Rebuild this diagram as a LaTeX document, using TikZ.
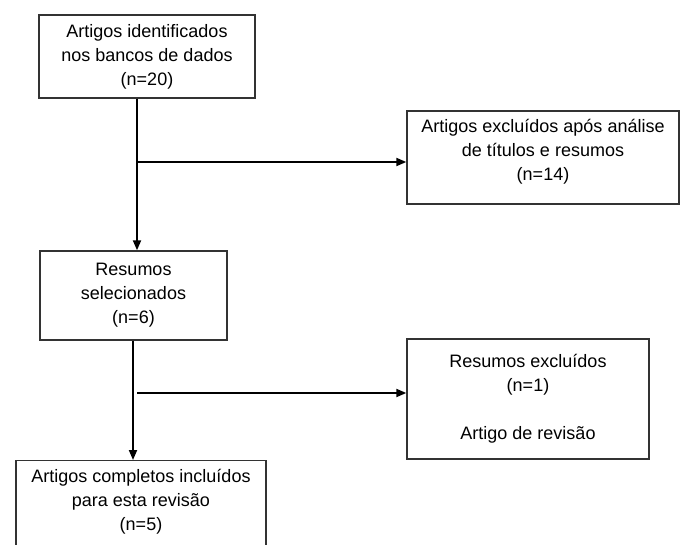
\documentclass[tikz,border=0pt]{standalone}
\usepackage{fontspec}
\setmainfont{Liberation Sans}
\usetikzlibrary{positioning,arrows.meta}

\tikzset{
  box/.style={draw=black!80, line width=1.4pt, inner sep=0pt, align=center,
    font=\fontsize{18}{24}\selectfont},
  flow/.style={line width=1.9pt, -{Triangle[length=10pt,width=8pt]}},
}

\begin{document}
\begin{tikzpicture}[x=1pt,y=-1pt]
  \useasboundingbox (0,0) rectangle (682,545);
  \clip (0,0) rectangle (682,545);
  % node
  \node[box, minimum width=216pt, minimum height=83pt] (ident) at (147,56.5)
    {Artigos identificados\\nos bancos de dados\\(n=20)};
  \node[box, minimum width=272pt, minimum height=93pt] (excl1) at (543,157.5)
    {Artigos exclu\'idos ap\'os an\'alise\\de t\'itulos e resumos\\(n=14)\\[-8pt]};
  \node[box, minimum width=187pt, minimum height=89pt] (resum) at (133.5,295.5)
    {Resumos\\selecionados\\(n=6)};
  \node[box, minimum width=242pt, minimum height=120pt] (excl2) at (528,399)
    {Resumos exclu\'idos\\(n=1)\\[24pt]Artigo de revis\~ao};
  \node[box, minimum width=250pt, anchor=north, inner ysep=8.6pt, text depth=40pt] (incl) at (141,460)
    {Artigos completos inclu\'idos\\para esta revis\~ao\\(n=5)};
  % arrow
  \coordinate (j1) at (137,162);
  \coordinate (j2) at (137,393);
  \coordinate (j3) at (133,0);
  \draw[flow] (ident.south -| j1) -- (resum.north -| j1);
  \draw[flow] (j1) -- (j1 -| excl1.west);
  \draw[flow] (resum.south -| j3) -- (incl.north -| j3);
  \draw[flow] (j2) -- (j2 -| excl2.west);
\end{tikzpicture}
\end{document}
